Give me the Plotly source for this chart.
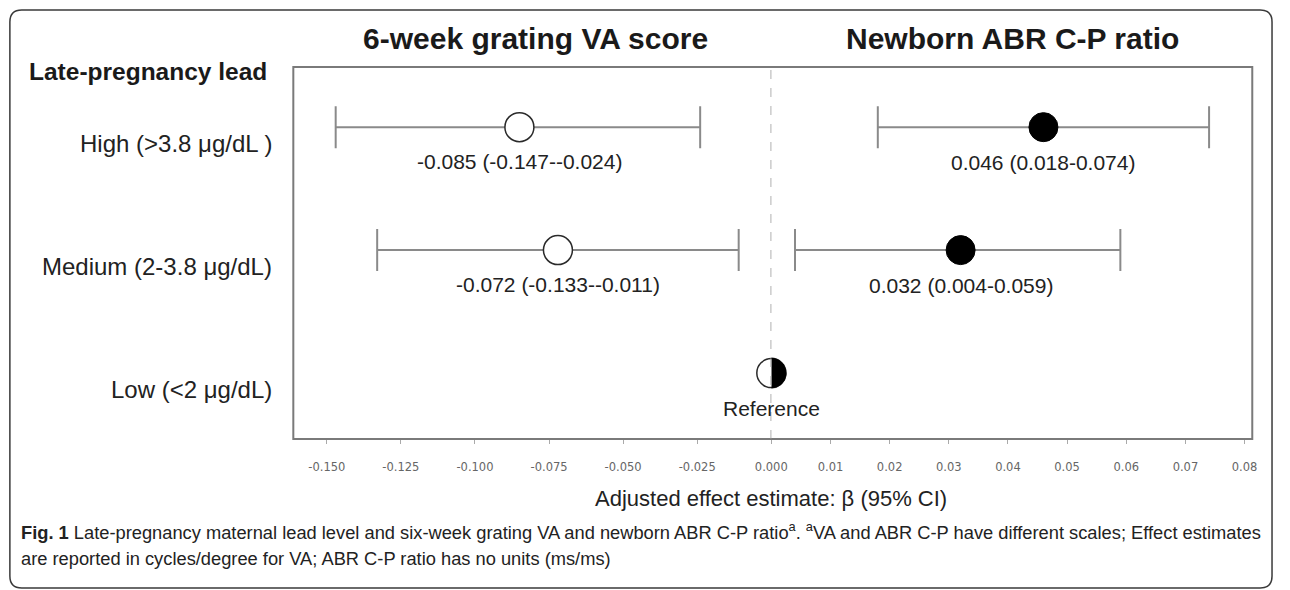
import numpy as np
import plotly.graph_objects as go

# ---------------- data ----------------
rows = ["High (>3.8 μg/dL )", "Medium (2-3.8 μg/dL)", "Low (<2 μg/dL)"]
row_pos = [3, 2, 1]

va_est = [-0.085, -0.072]
va_lo = [-0.147, -0.133]
va_hi = [-0.024, -0.011]

abr_est = [0.046, 0.032]
abr_lo = [0.018, 0.004]
abr_hi = [0.074, 0.059]

ref_value = 0.0
ref_label = "Reference"

left_ticks = [-0.150, -0.125, -0.100, -0.075, -0.050, -0.025, 0.000]
left_ticktext = ["-0.150", "-0.125", "-0.100", "-0.075", "-0.050", "-0.025", "0.000"]
right_ticks = [0.01, 0.02, 0.03, 0.04, 0.05, 0.06, 0.07, 0.08]
right_ticktext = ["0.01", "0.02", "0.03", "0.04", "0.05", "0.06", "0.07", "0.08"]

# ---------------- layout geometry ----------------
W, H = 1290, 590
def px(x):
    return x / W
def py(y):
    return 1 - y / H

box_l, box_mid, box_r = 297, 781, 1268
box_t, box_b = 67, 439
left_range = [-0.1613, 0.00001]
right_range = [0.0, 0.0813]
y_range = [0.464, 3.489]

ARIAL = "Liberation Sans, Arial, sans-serif"
err_col = "#8a8a8a"

fig = go.Figure()

fig.add_trace(go.Scatter(
    x=va_est, y=row_pos[:2], xaxis="x", yaxis="y", mode="markers",
    marker=dict(size=29, color="white", line=dict(color="#2a2a2a", width=1.5)),
    error_x=dict(type="data", symmetric=False,
                 array=[h - e for h, e in zip(va_hi, va_est)],
                 arrayminus=[e - l for e, l in zip(va_est, va_lo)],
                 color=err_col, thickness=2, width=21),
    showlegend=False, hoverinfo="skip"))

fig.add_trace(go.Scatter(
    x=abr_est, y=row_pos[:2], xaxis="x2", yaxis="y", mode="markers",
    marker=dict(size=29, color="black", line=dict(color="black", width=1)),
    error_x=dict(type="data", symmetric=False,
                 array=[h - e for h, e in zip(abr_hi, abr_est)],
                 arrayminus=[e - l for e, l in zip(abr_est, abr_lo)],
                 color=err_col, thickness=2, width=21),
    showlegend=False, hoverinfo="skip"))

fig.add_trace(go.Scatter(
    x=[ref_value], y=[row_pos[2]], xaxis="x2", yaxis="y", mode="markers",
    marker=dict(size=29, color="white", line=dict(color="#2a2a2a", width=1.5)),
    cliponaxis=False, showlegend=False, hoverinfo="skip"))

x2_ppu = (box_r - box_mid) / (right_range[1] - right_range[0])
y_ppu = (box_b - box_t) / (y_range[1] - y_range[0])
r_px = 15.2
t = np.linspace(-np.pi / 2, np.pi / 2, 60)
fig.add_trace(go.Scatter(
    x=ref_value + r_px / x2_ppu * np.cos(t),
    y=row_pos[2] + r_px / y_ppu * np.sin(t),
    xaxis="x2", yaxis="y", mode="lines", fill="toself",
    fillcolor="black", line=dict(color="black", width=0.5),
    showlegend=False, hoverinfo="skip"))

annotations = []
def ann(**kw):
    kw.setdefault("showarrow", False)
    kw.setdefault("xanchor", "center")
    kw.setdefault("yanchor", "middle")
    annotations.append(kw)

for e, l, h, yv in zip(va_est, va_lo, va_hi, row_pos):
    ann(x=e, y=yv, xref="x", yref="y", yshift=-34,
        text=f"{e:.3f} ({l:.3f}-{h:.3f})",
        font=dict(family=ARIAL, size=21, color="#222"))
for e, l, h, yv in zip(abr_est, abr_lo, abr_hi, row_pos):
    ann(x=e, y=yv, xref="x2", yref="y", yshift=-35,
        text=f"{e:.3f} ({l:.3f}-{h:.3f})",
        font=dict(family=ARIAL, size=21, color="#222"))
ann(x=ref_value, y=row_pos[2], xref="x2", yref="y", yshift=-35, text=ref_label,
    font=dict(family=ARIAL, size=21, color="#222"))
for lab, yv in zip(rows, row_pos):
    ann(x=px(277), y=yv, xref="paper", yref="y", yshift=-16, xanchor="right",
        text=lab, font=dict(family=ARIAL, size=24, color="#222"))
ann(x=px(542), y=py(39), xref="paper", yref="paper",
    text="<b>6-week grating VA score</b>",
    font=dict(family=ARIAL, size=30, color="#1a1a1a"))
ann(x=px(1025), y=py(39), xref="paper", yref="paper",
    text="<b>Newborn ABR C-P ratio</b>",
    font=dict(family=ARIAL, size=30, color="#1a1a1a"))
ann(x=px(27), y=py(71), xref="paper", yref="paper", xanchor="left",
    text="<b>Late-pregnancy lead</b>",
    font=dict(family=ARIAL, size=24.5, color="#1a1a1a"))
ann(x=px(781), y=py(498), xref="paper", yref="paper",
    text="Adjusted effect estimate: β (95% CI)",
    font=dict(family=ARIAL, size=22, color="#222"))
CAP = "Liberation Sans, Arial, sans-serif"
ann(x=px(19), y=py(531), xref="paper", yref="paper", xanchor="left",
    text="<b>Fig. 1</b> Late-pregnancy maternal lead level and six-week grating VA and newborn ABR C-P ratio<sup>a</sup>. <sup>a</sup>VA and ABR C-P have different scales; Effect estimates",
    font=dict(family=CAP, size=18.3, color="#222"))
ann(x=px(19), y=py(558), xref="paper", yref="paper", xanchor="left",
    text="are reported in cycles/degree for VA; ABR C-P ratio has no units (ms/ms)",
    font=dict(family=CAP, size=18.3, color="#222"))

rx, ry = 12 / W, 12 / H
x0, x1, y0, y1 = px(10), px(1288), py(588), py(10)
frame_path = (f"M {x0+rx},{y1} L {x1-rx},{y1} Q {x1},{y1} {x1},{y1-ry} "
              f"L {x1},{y0+ry} Q {x1},{y0} {x1-rx},{y0} L {x0+rx},{y0} "
              f"Q {x0},{y0} {x0},{y0+ry} L {x0},{y1-ry} Q {x0},{y1} {x0+rx},{y1} Z")
shapes = [
    dict(type="path", path=frame_path, xref="paper", yref="paper",
         line=dict(color="#3a3a3a", width=1.5)),
    dict(type="rect", xref="paper", yref="paper", x0=px(box_l), x1=px(box_r),
         y0=py(box_b), y1=py(box_t), line=dict(color="#7a7a7a", width=2)),
    dict(type="line", xref="x", yref="paper", x0=0, x1=0, y0=py(box_b), y1=py(box_t),
         line=dict(color="#9a9a9a", width=1.5, dash="dash")),
]

tickfont = dict(family="DejaVu Sans, Verdana, sans-serif", size=11.5, color="#666")
fig.update_layout(
    width=W, height=H, margin=dict(l=0, r=0, t=0, b=0),
    paper_bgcolor="white", plot_bgcolor="white",
    xaxis=dict(domain=[px(box_l), px(box_mid)], range=left_range,
               tickvals=left_ticks, ticktext=left_ticktext, tickfont=tickfont,
               ticks="outside", ticklen=4, tickcolor="#aaa", ticklabelstandoff=13,
               showgrid=False, zeroline=False, showline=False, fixedrange=True),
    xaxis2=dict(domain=[px(box_mid), px(box_r)], range=right_range, anchor="y",
                tickvals=right_ticks, ticktext=right_ticktext, tickfont=tickfont,
                ticks="outside", ticklen=4, tickcolor="#aaa", ticklabelstandoff=13,
                showgrid=False, zeroline=False, showline=False, fixedrange=True),
    yaxis=dict(domain=[py(box_b), py(box_t)], range=y_range, showticklabels=False,
               showgrid=False, zeroline=False, showline=False, ticks="", fixedrange=True),
    annotations=annotations, shapes=shapes,
)

fig.write_html(
    "out.html",
    config={"displayModeBar": False, "staticPlot": True},
    post_script=(
        "var s=document.documentElement.style;s.margin='0';s.padding='0';"
        "s.width='1290px';s.height='590px';s.overflow='hidden';"
        "var b=document.body.style;b.margin='0';b.padding='0';"
        "b.width='1290px';b.height='590px';b.overflow='hidden';"
        "var g=document.getElementById('{plot_id}');"
        "if(g&&g.parentElement){var p=g.parentElement.style;"
        "p.width='1290px';p.height='590px';p.overflow='hidden';}"
    ),
)
